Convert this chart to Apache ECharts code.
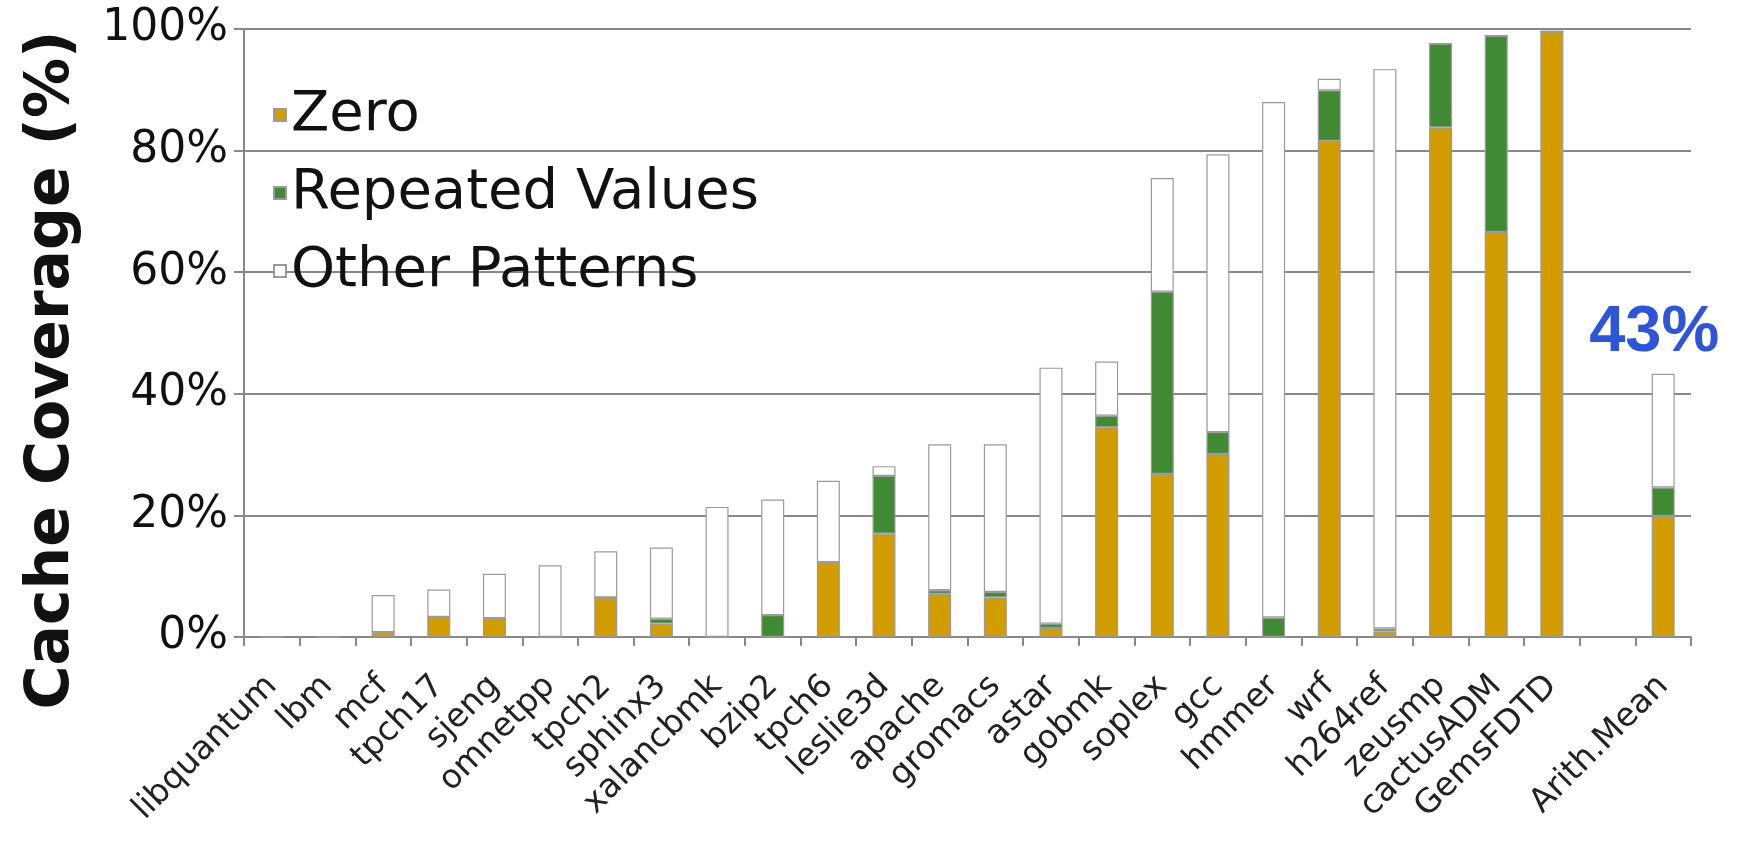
<!DOCTYPE html>
<html>
<head>
<meta charset="utf-8">
<script src="https://cdn.jsdelivr.net/npm/echarts@6/dist/echarts.min.js"></script>
<style>
html,body{margin:0;padding:0;background:#fff;}
#chart{width:1741px;height:847px;}
</style>
</head>
<body>
<div id="chart"></div>
<script>
var categories = ['libquantum','lbm','mcf','tpch17','sjeng','omnetpp','tpch2','sphinx3','xalancbmk','bzip2','tpch6','leslie3d','apache','gromacs','astar','gobmk','soplex','gcc','hmmer','wrf','h264ref','zeusmp','cactusADM','GemsFDTD','','Arith.Mean'];
var zeroValues =     [0, 0, 0.8, 3.3, 3.1, 0,    6.5, 2.2, 0,    0,    12.3, 17.0, 7.1,  6.5,  1.5,  34.5, 26.8, 30.1, 0,    81.6, 0.9,  83.8, 66.6, 99.6, null, 19.9];
var repeatedValues = [0, 0, 0,   0,   0,   0,    0,   0.8, 0,    3.6,  0,    9.5,  0.6,  0.9,  0.7,  1.9,  30.0, 3.6,  3.2,  8.3,  0.5,  13.8, 32.3, 0,    null, 4.7];
var otherValues =    [0, 0, 6.1, 4.5, 7.3, 11.8, 7.6, 11.7, 21.4, 19.0, 13.4, 1.6,  24.0, 24.3, 42.1, 8.9,  18.7, 45.7, 84.8, 1.9,  92.0, 0,    0,    0,    null, 18.7];
var seriesNames = ['Zero', 'Repeated Values', 'Other Patterns'];
var yTicks = [0, 20, 40, 60, 80, 100];
var meanLabel = '43%';
var meanCategory = 'Arith.Mean';

var chart = echarts.init(document.getElementById('chart'));
function mk(name, vals, color, extra) {
  var s = {
    name: name, type: 'bar', stack: 'total', barWidth: 23,
    data: vals,
    itemStyle: {color: color, borderColor: '#9a9a9a', borderWidth: 1.2},
    emphasis: {disabled: true},
    animation: false
  };
  if (extra) for (var k in extra) s[k] = extra[k];
  return s;
}
var option = {
  backgroundColor: '#ffffff',
  animation: false,
  grid: {left: 244, right: 50, top: 29, bottom: 210, containLabel: false},
  legend: {
    data: seriesNames, orient: 'vertical', left: 268, top: 82,
    itemWidth: 12, itemHeight: 12, itemGap: 22, icon: 'rect',
    textStyle: {fontSize: 56, fontFamily: 'DejaVu Sans', color: '#111'}
  },
  xAxis: {
    type: 'category', data: categories,
    axisLine: {lineStyle: {color: '#888', width: 2}},
    axisTick: {show: true, interval: 0, length: 9, lineStyle: {color: '#888', width: 2}},
    axisLabel: {interval: 0, rotate: 45, fontSize: 33, fontFamily: 'DejaVu Sans', color: '#222', margin: 44}
  },
  yAxis: {
    type: 'value', min: yTicks[0], max: yTicks[yTicks.length - 1], interval: 20,
    axisLine: {show: true, lineStyle: {color: '#888', width: 2}},
    axisTick: {show: true, length: 10, lineStyle: {color: '#888', width: 2}},
    splitLine: {lineStyle: {color: '#888', width: 2}},
    axisLabel: {formatter: '{value}%', fontSize: 44, fontFamily: 'DejaVu Sans', color: '#111', margin: 16}
  },
  graphic: [{
    type: 'text', x: 52, y: 370, rotation: Math.PI / 2,
    style: {text: 'Cache Coverage (%)', fontSize: 60, fontWeight: 'bold', fontFamily: 'DejaVu Sans', fill: '#111', textAlign: 'center', textVerticalAlign: 'middle'}
  }],
  series: [
    mk(seriesNames[0], zeroValues, '#D19D00'),
    mk(seriesNames[1], repeatedValues, '#3F8A32'),
    mk(seriesNames[2], otherValues, '#FFFFFF', {
      label: {
        show: true, position: 'top', distance: 8, offset: [-9, 0],
        fontSize: 65, fontWeight: 'bold', fontFamily: 'Liberation Sans', color: '#2D55D6',
        formatter: function (p) { return p.name === meanCategory ? meanLabel : ''; }
      }
    })
  ]
};
chart.setOption(option);
</script>
</body>
</html>
